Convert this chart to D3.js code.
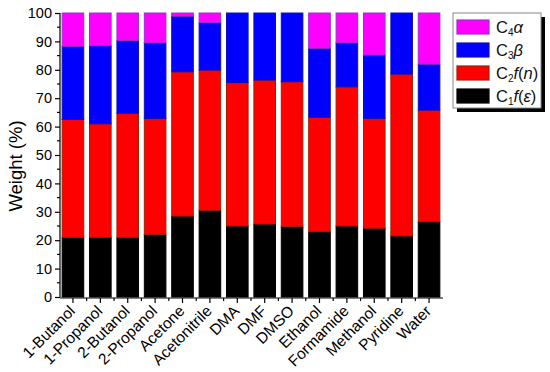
<!DOCTYPE html>
<html><head><meta charset="utf-8">
<script src="https://cdn.jsdelivr.net/npm/d3@7"></script>
<style>body{margin:0;background:#fff}svg{display:block}text{font-family:"Liberation Sans",Arial,sans-serif}</style>
</head><body><svg id="c" width="550" height="372"></svg>
<script>
const categories = ["1-Butanol","1-Propanol","2-Butanol","2-Propanol","Acetone","Acetonitrile","DMA","DMF","DMSO","Ethanol","Formamide","Methanol","Pyridine","Water"];
const C1 = [21, 21, 21, 22, 28.5, 30.5, 25, 25.7, 24.8, 23, 25, 24.2, 21.5, 26.5];
const C2 = [41.5, 40, 43.7, 40.9, 50.8, 49.4, 50.5, 50.7, 51, 40.3, 49, 38.7, 57, 39.3];
const C3 = [25.8, 27.5, 25.6, 26.6, 19.6, 16.7, 24.5, 23.6, 24.2, 24.3, 15.5, 22.3, 21.5, 16.2];
const C4 = [11.7, 11.5, 9.7, 10.5, 1.1, 3.4, 0, 0, 0, 12.4, 10.5, 14.8, 0, 18];
const yTicks = [0,10,20,30,40,50,60,70,80,90,100];
const seriesKeys = ["C1","C2","C3","C4"];
const fills = {C1:"#000000", C2:"#ff0000", C3:"#0000ff", C4:"#ff00ff"};
const strokes = {C1:"#000000", C2:"#a02000", C3:"#1010b0", C4:"#9a30d0"};

const table = categories.map((c,i)=>({cat:c, C1:C1[i], C2:C2[i], C3:C3[i], C4:C4[i]}));
const svg = d3.select("#c");
const x = d3.scaleBand().domain(categories).range([60, 442]).paddingInner(0.175).paddingOuter(0.06);
const y = d3.scaleLinear().domain([0,100]).range([297, 13]);
const stack = d3.stack().keys(seriesKeys)(table);

svg.append("g").selectAll("g").data(stack).join("g")
  .attr("fill", d=>fills[d.key]).attr("stroke", d=>strokes[d.key]).attr("stroke-width",1)
  .selectAll("rect").data(d=>d).join("rect")
  .attr("x", d=>x(d.data.cat)+0.5).attr("width", x.bandwidth()-1)
  .attr("y", d=>y(d[1])).attr("height", d=>Math.max(0, y(d[0])-y(d[1])))
  .attr("display", d=>(d[1]-d[0])>0 ? null : "none");

// y axis
const ya = svg.append("g").attr("transform","translate(60,0)")
  .call(d3.axisLeft(y).tickValues(yTicks).tickSize(5).tickPadding(3).tickFormat(d3.format("d")));
ya.selectAll("text").attr("font-size",14.5).attr("fill","#000");
ya.select(".domain").attr("d","M0,297V13").attr("stroke","#000").attr("stroke-width",1.2);
ya.selectAll(".tick line").attr("stroke","#000").attr("stroke-width",1.2);
svg.append("g").selectAll("line").data(yTicks.slice(0,-1).map(v=>v+5)).join("line")
  .attr("x1",57).attr("x2",60).attr("y1",d=>y(d)).attr("y2",d=>y(d)).attr("stroke","#000").attr("stroke-width",1.2);

// x axis
const xa = svg.append("g").attr("transform","translate(0,298)");
xa.append("line").attr("x1",60).attr("x2",443).attr("y1",0).attr("y2",0).attr("stroke","#000").attr("stroke-width",1.2);
xa.selectAll("line.maj").data(categories).join("line").attr("class","maj")
  .attr("x1",d=>x(d)+x.bandwidth()/2).attr("x2",d=>x(d)+x.bandwidth()/2).attr("y1",0).attr("y2",5).attr("stroke","#000").attr("stroke-width",1.2);
xa.selectAll("line.min").data(categories.slice(0,-1)).join("line").attr("class","min")
  .attr("x1",d=>x(d)+x.step()-x.step()*0.0875).attr("x2",d=>x(d)+x.step()-x.step()*0.0875).attr("y1",0).attr("y2",3).attr("stroke","#000").attr("stroke-width",1.2);
xa.selectAll("text").data(categories).join("text")
  .attr("transform",d=>`translate(${x(d)+x.bandwidth()/2+3},${14}) rotate(-45)`)
  .attr("text-anchor","end").attr("font-size",15.5).attr("fill","#000").text(d=>d);

// y label
svg.append("text").attr("transform","translate(22,166) rotate(-90)").attr("text-anchor","middle")
  .attr("font-size",18.5).attr("fill","#000").text("Weight (%)");

// legend
const lg = svg.append("g");
lg.append("rect").attr("x",457).attr("y",17).attr("width",88).attr("height",95).attr("fill","#000");
lg.append("rect").attr("x",453).attr("y",13).attr("width",88).attr("height",95).attr("fill","#fff").attr("stroke","#888").attr("stroke-width",1);
const legItems = [
  {k:"C4", sub:"4", tail:[{t:"α", it:true}]},
  {k:"C3", sub:"3", tail:[{t:"β", it:true}]},
  {k:"C2", sub:"2", tail:[{t:"f", it:true},{t:"(",it:false},{t:"n",it:true},{t:")",it:false}]},
  {k:"C1", sub:"1", tail:[{t:"f", it:true},{t:"(",it:false},{t:"ε",it:true},{t:")",it:false}]}
];
legItems.forEach((it,i)=>{
  const yy = 20 + i*23;
  lg.append("rect").attr("x",457).attr("y",yy).attr("width",32).attr("height",14)
    .attr("fill",fills[it.k]).attr("stroke",strokes[it.k]).attr("stroke-width",1.2);
  const t = lg.append("text").attr("x",496).attr("y",yy+13).attr("font-size",16.5).attr("fill","#111");
  t.append("tspan").text("C");
  t.append("tspan").attr("font-size",10).attr("dy",3).text(it.sub);
  it.tail.forEach((p,j)=>{
    const s = t.append("tspan").text(p.t).attr("font-style",p.it?"italic":"normal");
    if(j===0) s.attr("dy",-3);
  });
});
</script></body></html>
